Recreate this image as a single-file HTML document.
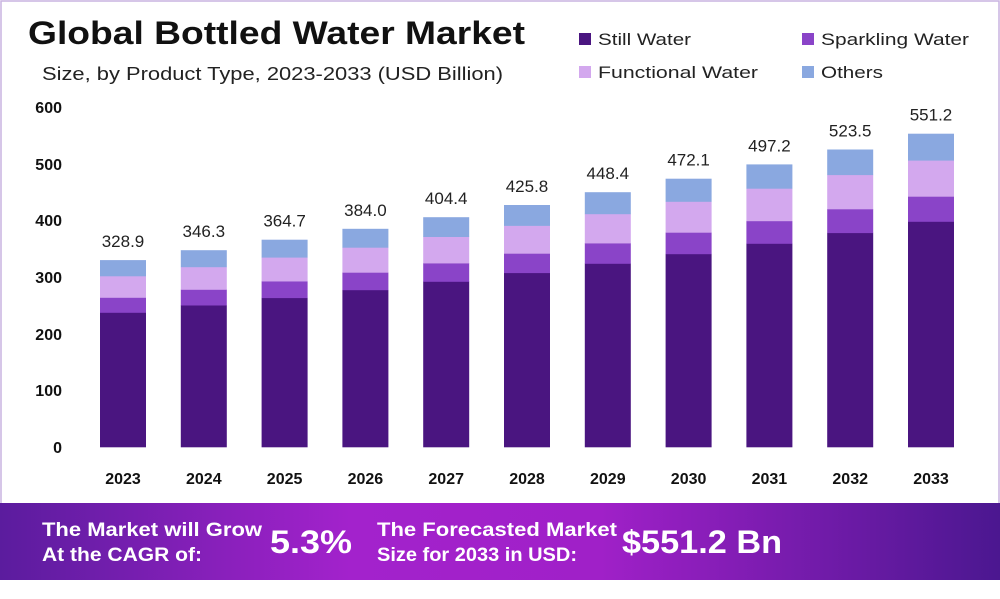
<!DOCTYPE html>
<html><head><meta charset="utf-8"><style>
body{margin:0;width:1000px;height:594px;background:#fff;overflow:hidden;font-family:"Liberation Sans",sans-serif}
</style></head><body>
<svg width="1000" height="594" xmlns="http://www.w3.org/2000/svg" font-family="Liberation Sans, sans-serif">
<defs>
<linearGradient id="bg" x1="0" x2="1" y1="0" y2="0">
<stop offset="0" stop-color="#5b1c9e"/><stop offset="0.35" stop-color="#a322cc"/><stop offset="0.6" stop-color="#a020c8"/><stop offset="1" stop-color="#4b1790"/>
</linearGradient>
</defs>
<rect x="1" y="1" width="998" height="503" fill="#fff" stroke="#c9b3e0" stroke-width="1.5"/>
<text x="28" y="44" font-size="32" font-weight="bold" fill="#111" textLength="497" lengthAdjust="spacingAndGlyphs">Global Bottled Water Market</text>
<text x="42" y="80" font-size="18" fill="#222" textLength="461" lengthAdjust="spacingAndGlyphs">Size, by Product Type, 2023-2033 (USD Billion)</text>
<g font-size="17" fill="#222">
<rect x="579" y="33" width="12" height="12" fill="#4a1580"/><text x="598" y="45" textLength="93" lengthAdjust="spacingAndGlyphs">Still Water</text>
<rect x="802" y="33" width="12" height="12" fill="#8a44c8"/><text x="821" y="45" textLength="148" lengthAdjust="spacingAndGlyphs">Sparkling Water</text>
<rect x="579" y="66" width="12" height="12" fill="#d3a8ee"/><text x="598" y="78" textLength="160" lengthAdjust="spacingAndGlyphs">Functional Water</text>
<rect x="802" y="66" width="12" height="12" fill="#8aa8e0"/><text x="821" y="78" textLength="62" lengthAdjust="spacingAndGlyphs">Others</text>
</g>
<g font-size="16" font-weight="bold" fill="#111" text-anchor="end">
<text x="62" y="113">600</text><text x="62" y="170">500</text><text x="62" y="226">400</text>
<text x="62" y="283">300</text><text x="62" y="340">200</text><text x="62" y="396">100</text><text x="62" y="453">0</text>
</g>
<g id="bars"></g>
<rect x="0" y="503" width="1000" height="77" fill="url(#bg)"/>
<g fill="#fff" font-weight="bold">
<text x="42" y="536" font-size="19" textLength="220" lengthAdjust="spacingAndGlyphs">The Market will Grow</text>
<text x="42" y="561" font-size="19" textLength="160" lengthAdjust="spacingAndGlyphs">At the CAGR of:</text>
<text x="270" y="553" font-size="32" textLength="82" lengthAdjust="spacingAndGlyphs">5.3%</text>
<text x="377" y="536" font-size="19" textLength="240" lengthAdjust="spacingAndGlyphs">The Forecasted Market</text>
<text x="377" y="561" font-size="19" textLength="200" lengthAdjust="spacingAndGlyphs">Size for 2033 in USD:</text>
<text x="622" y="553" font-size="32" textLength="160" lengthAdjust="spacingAndGlyphs">$551.2 Bn</text>
</g>
</svg>
<script>
var vals=[328.9,346.3,364.7,384.0,404.4,425.8,448.4,472.1,497.2,523.5,551.2];
var g=document.getElementById('bars'),s='';
var k=341/600,base=447;
for(var i=0;i<11;i++){
 var cx=123+i*80.8,x=cx-23,v=vals[i];
 var f=[0.72,0.08,0.115,0.085],c=['#4a1580','#8a44c8','#d3a8ee','#8aa8e0'];
 var y=base;
 for(var j=0;j<4;j++){var h=v*f[j]*k;y-=h;s+='<rect x="'+x+'" y="'+y.toFixed(1)+'" width="46" height="'+(h+0.3).toFixed(1)+'" fill="'+c[j]+'"/>';}
 s+='<text x="'+cx+'" y="'+(y-13).toFixed(1)+'" font-size="17" fill="#222" text-anchor="middle">'+v.toFixed(1)+'</text>';
 s+='<text x="'+cx+'" y="484" font-size="16" font-weight="bold" fill="#111" text-anchor="middle">'+(2023+i)+'</text>';
}
g.innerHTML=s;
</script>
</body></html>
